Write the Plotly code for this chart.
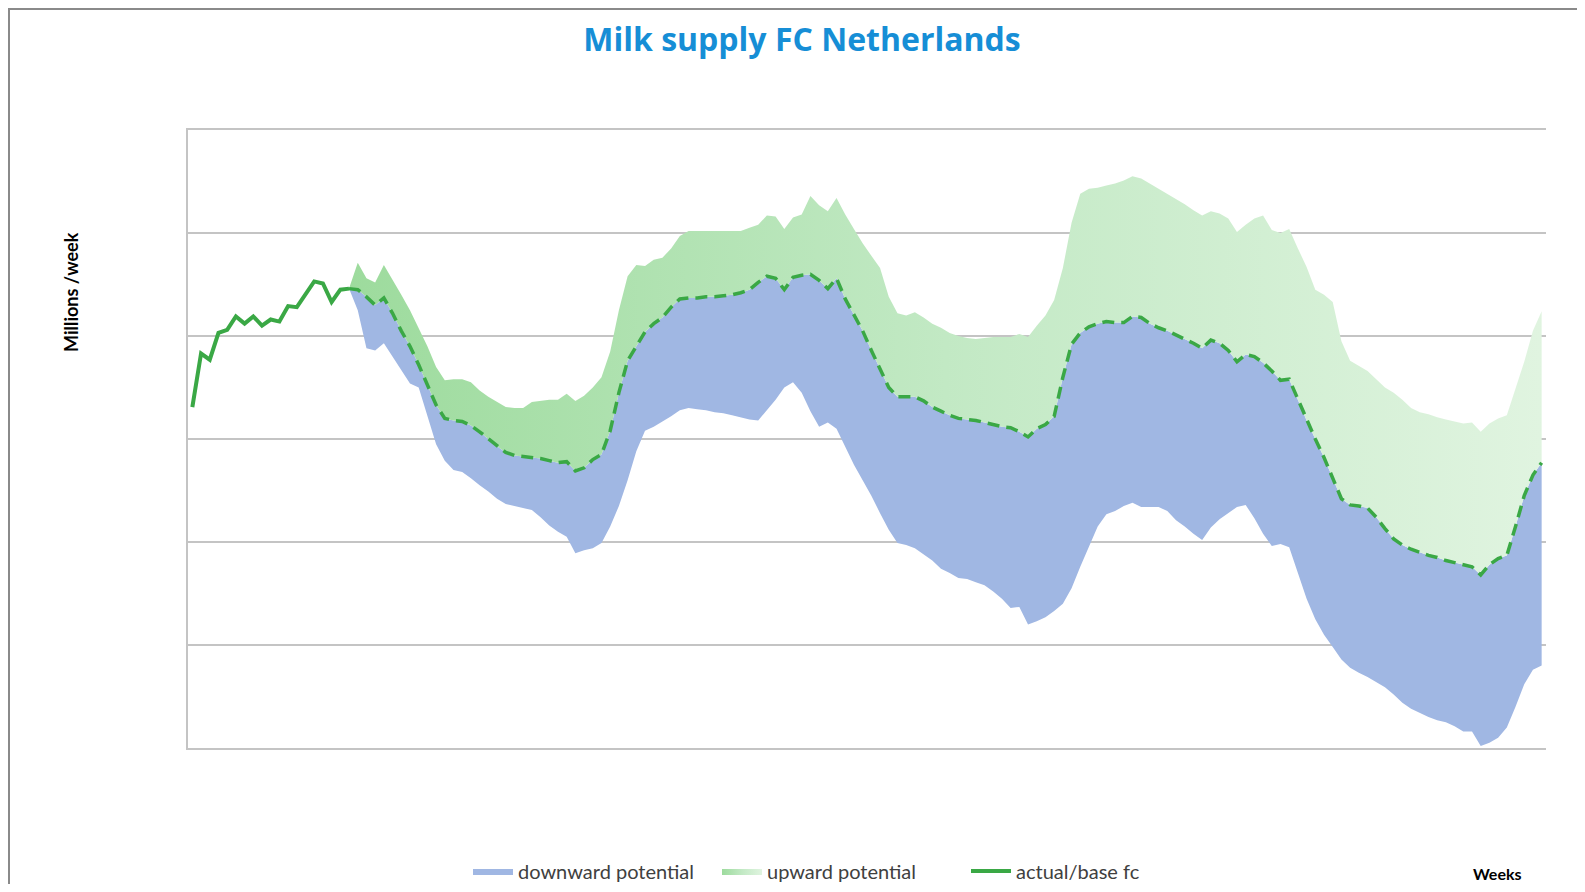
import plotly.graph_objects as go

# Weeks on the x axis (156 weekly buckets)
weeks = list(range(1, 157))

# Actual milk supply (weeks 1..19), units of gridline steps
actual = [3.31, 3.83, 3.77, 4.03, 4.06, 4.19, 4.12, 4.19, 4.10, 4.16,
          4.14, 4.29, 4.28, 4.41, 4.53, 4.51, 4.33, 4.45, 4.46]

# Forecast arrays start at week 19
fc_weeks = weeks[18:]

base_fc = [4.46, 4.45, 4.38, 4.30, 4.37, 4.22, 4.05, 3.90, 3.72, 3.52,
           3.33, 3.20, 3.18, 3.17, 3.13, 3.07, 3.00, 2.93, 2.87, 2.84,
           2.83, 2.82, 2.81, 2.79, 2.77, 2.78, 2.69, 2.72, 2.80, 2.85,
           3.08, 3.45, 3.76, 3.90, 4.04, 4.12, 4.18, 4.28, 4.36, 4.37,
           4.37, 4.38, 4.38, 4.39, 4.40, 4.42, 4.45, 4.52, 4.58, 4.56,
           4.45, 4.57, 4.59, 4.60, 4.54, 4.46, 4.56, 4.36, 4.20, 4.05,
           3.86, 3.68, 3.50, 3.41, 3.41, 3.41, 3.37, 3.31, 3.27, 3.23,
           3.20, 3.19, 3.18, 3.16, 3.14, 3.12, 3.11, 3.07, 3.02, 3.10,
           3.14, 3.22, 3.60, 3.92, 4.03, 4.09, 4.12, 4.14, 4.13, 4.13,
           4.19, 4.18, 4.12, 4.08, 4.05, 4.01, 3.97, 3.93, 3.88, 3.96,
           3.93, 3.86, 3.75, 3.82, 3.80, 3.74, 3.66, 3.57, 3.58, 3.38,
           3.18, 3.00, 2.82, 2.62, 2.42, 2.36, 2.35, 2.33, 2.24, 2.13,
           2.03, 1.97, 1.93, 1.90, 1.87, 1.85, 1.82, 1.80, 1.78, 1.76,
           1.68, 1.78, 1.84, 1.87, 2.15, 2.45, 2.65, 2.77]

upper_fc = [4.46, 4.71, 4.56, 4.52, 4.69, 4.55, 4.40, 4.25, 4.08, 3.90,
            3.70, 3.57, 3.58, 3.58, 3.55, 3.47, 3.41, 3.36, 3.31, 3.30,
            3.30, 3.36, 3.37, 3.38, 3.38, 3.44, 3.37, 3.42, 3.50, 3.60,
            3.85, 4.25, 4.58, 4.69, 4.68, 4.74, 4.76, 4.85, 4.97, 5.02,
            5.02, 5.02, 5.02, 5.02, 5.02, 5.02, 5.05, 5.08, 5.17, 5.16,
            5.04, 5.15, 5.18, 5.36, 5.27, 5.21, 5.34, 5.18, 5.04, 4.90,
            4.78, 4.66, 4.38, 4.22, 4.20, 4.23, 4.18, 4.12, 4.08, 4.03,
            4.00, 3.98, 3.97, 3.98, 3.99, 3.99, 3.99, 4.02, 3.99, 4.10,
            4.20, 4.35, 4.66, 5.10, 5.38, 5.43, 5.44, 5.46, 5.48, 5.51,
            5.55, 5.53, 5.48, 5.43, 5.38, 5.33, 5.28, 5.22, 5.17, 5.21,
            5.19, 5.14, 5.01, 5.08, 5.14, 5.17, 5.03, 5.00, 5.04, 4.85,
            4.67, 4.45, 4.40, 4.33, 3.95, 3.76, 3.71, 3.66, 3.58, 3.50,
            3.45, 3.38, 3.30, 3.26, 3.24, 3.21, 3.19, 3.17, 3.15, 3.16,
            3.07, 3.15, 3.20, 3.23, 3.50, 3.75, 4.05, 4.24]

lower_fc = [4.46, 4.25, 3.88, 3.86, 3.93, 3.80, 3.67, 3.54, 3.50, 3.22,
            2.95, 2.79, 2.70, 2.68, 2.62, 2.55, 2.49, 2.42, 2.37, 2.35,
            2.33, 2.31, 2.24, 2.16, 2.10, 2.05, 1.89, 1.92, 1.94, 1.99,
            2.15, 2.35, 2.60, 2.88, 3.08, 3.12, 3.17, 3.22, 3.28, 3.30,
            3.29, 3.28, 3.26, 3.25, 3.23, 3.21, 3.19, 3.18, 3.28, 3.38,
            3.50, 3.55, 3.45, 3.27, 3.12, 3.16, 3.10, 2.93, 2.75, 2.60,
            2.45, 2.28, 2.12, 1.99, 1.97, 1.94, 1.88, 1.82, 1.74, 1.70,
            1.65, 1.64, 1.61, 1.58, 1.52, 1.45, 1.36, 1.37, 1.20, 1.23,
            1.27, 1.33, 1.40, 1.55, 1.76, 1.95, 2.15, 2.27, 2.30, 2.35,
            2.38, 2.34, 2.34, 2.34, 2.30, 2.21, 2.15, 2.08, 2.02, 2.14,
            2.22, 2.28, 2.34, 2.36, 2.23, 2.08, 1.96, 1.98, 1.95, 1.70,
            1.45, 1.25, 1.10, 0.98, 0.86, 0.78, 0.73, 0.69, 0.64, 0.59,
            0.52, 0.44, 0.38, 0.34, 0.30, 0.27, 0.25, 0.21, 0.16, 0.16,
            0.02, 0.05, 0.10, 0.20, 0.40, 0.62, 0.76, 0.80]

GREEN = "#3aa845"
BLUE_FILL = "#a0b7e3"
GRID = "#c4c4c4"

fig = go.Figure()

fig.add_trace(go.Scatter(x=fc_weeks, y=lower_fc, mode="lines",
                         line=dict(width=0), showlegend=False, hoverinfo="skip"))
fig.add_trace(go.Scatter(x=fc_weeks, y=base_fc, mode="lines", name="downward potential",
                         line=dict(width=0, color=BLUE_FILL), fill="tonexty",
                         fillcolor=BLUE_FILL))
fig.add_trace(go.Scatter(x=fc_weeks, y=upper_fc, mode="lines", name="upward potential",
                         line=dict(width=0, color="#b9e6b9"), fill="tonexty",
                         fillcolor="#bde8bd",
                         fillgradient=dict(type="horizontal",
                                           colorscale=[[0, "#9ddb9d"], [0.5, "#c2e9c4"], [1, "#e0f4e0"]])))
fig.add_trace(go.Scatter(x=fc_weeks, y=base_fc, mode="lines", showlegend=False,
                         line=dict(color=GREEN, width=3.5, dash="12px,7px")))
fig.add_trace(go.Scatter(x=weeks[:19], y=actual, mode="lines", name="actual/base fc",
                         line=dict(color=GREEN, width=4)))

# figure size compensates for the 8px default page margin
W, H = 1569, 876
L, R, T, B = 180, 31, 122, 136
pw, ph = W - L - R, H - T - B
OFF = 8


def px(xp):
    return (xp - OFF - L) / pw


def py(yp):
    return (H - B - (yp - OFF)) / ph


fig.update_layout(
    width=W, height=H,
    margin=dict(l=L, r=R, t=T, b=B, pad=0, autoexpand=False),
    paper_bgcolor="white", plot_bgcolor="white",
    font=dict(family="Lato, Open Sans, sans-serif", color="#404040"),
    title=dict(text="<b>Milk supply FC Netherlands</b>",
               x=(802 - OFF) / W, xanchor="center",
               y=1 - (40 - OFF) / H, yanchor="middle",
               font=dict(size=32, color="#168ed6", family="Open Sans, sans-serif")),
    xaxis=dict(range=[0.5, 156.5], showticklabels=False, ticks="", showgrid=False,
               zeroline=False, showline=True, mirror=True, linecolor=GRID, linewidth=1.5),
    yaxis=dict(range=[0, 6], dtick=1, showticklabels=False, ticks="", showgrid=True,
               gridcolor=GRID, gridwidth=1.5, zeroline=False, showline=True,
               linecolor=GRID, linewidth=1.5),
    legend=dict(orientation="h", traceorder="normal",
                x=px(468), xanchor="left", y=py(871), yanchor="middle",
                font=dict(size=20, color="#404040"), itemwidth=40,
                entrywidth=194, entrywidthmode="pixels",
                bgcolor="rgba(0,0,0,0)"),
    annotations=[
        dict(text="<b>Millions /week</b>", textangle=-90, x=px(71), y=py(292),
             xref="paper", yref="paper", xanchor="center", yanchor="middle",
             showarrow=False, font=dict(size=18, color="black")),
        dict(text="<b>Weeks</b>", x=px(1497), y=py(873),
             xref="paper", yref="paper", xanchor="center", yanchor="middle",
             showarrow=False, font=dict(size=16, color="black")),
    ],
)

fig.add_shape(type="rect", xref="paper", yref="paper",
              x0=px(9), y0=py(9), x1=px(1700), y1=py(1000),
              line=dict(color="#8a8a8a", width=2), fillcolor="rgba(0,0,0,0)", layer="below")

fig.write_html("out.html")
